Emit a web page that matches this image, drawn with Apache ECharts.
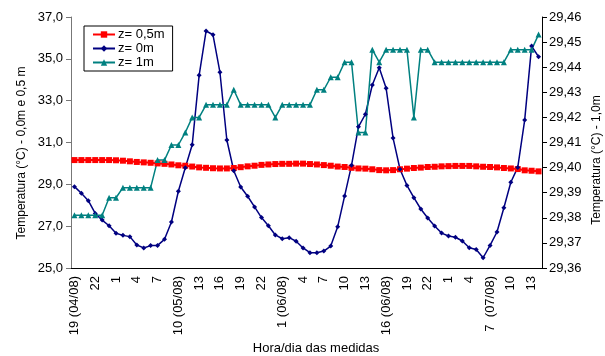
<!DOCTYPE html>
<html>
<head>
<meta charset="utf-8">
<script src="https://cdn.jsdelivr.net/npm/echarts@6/dist/echarts.min.js"></script>
<style>
html,body{margin:0;padding:0;background:#fff;}
#c{width:605px;height:356px;}
</style>
</head>
<body>
<div id="c"></div>
<script>
const categories = ['19 (04/08)','20','21','22','23',
'0','1','2','3','4','5','6','7','8','9','10 (05/08)','11','12','13','14','15','16','17','18','19','20','21','22','23',
'0','1 (06/08)','2','3','4','5','6','7','8','9','10','11','12','13','14','15','16 (06/08)','17','18','19','20','21','22','23',
'0','1','2','3','4','5','6','7  (07/08)','8','9','10','11','12','13','14'];

const z05 = [30.16,30.16,30.16,30.16,30.16,30.16,30.15,30.13,30.10,30.07,30.05,30.03,30.00,29.98,29.95,29.91,29.89,29.85,29.81,29.79,29.77,29.76,29.76,29.78,29.82,29.86,29.89,29.93,29.95,29.97,29.98,29.98,29.99,
29.99,29.97,29.95,29.92,29.89,29.85,29.83,29.79,29.76,29.75,29.72,29.68,29.67,29.68,29.72,29.75,29.78,29.80,29.83,29.84,29.86,29.87,29.88,29.88,29.88,29.86,29.84,29.83,29.81,29.78,29.76,29.73,29.67,29.65,29.62];

const z0 = [28.89,28.57,28.22,27.61,27.29,27.02,26.66,26.56,26.50,26.10,25.96,26.07,26.08,26.37,27.20,28.67,29.79,30.89,34.21,36.33,36.15,34.36,31.12,29.65,28.87,28.43,27.92,27.41,27.02,26.58,26.40,26.45,26.28,25.96,25.73,25.73,25.81,26.05,26.97,28.44,29.91,31.75,32.35,33.75,34.57,33.59,31.21,29.72,28.95,28.36,27.82,27.39,27.01,26.67,26.53,26.47,26.29,25.97,25.88,25.49,26.08,26.72,27.88,29.10,29.81,32.07,35.61,35.10];

const z1 = [29.381,29.381,29.381,29.381,29.381,29.388,29.388,29.392,29.392,29.392,29.392,29.392,29.403,29.403,29.409,29.409,29.414,29.420,29.420,29.425,29.425,29.425,29.425,29.431,29.425,29.425,29.425,29.425,29.425,29.420,29.425,29.425,29.425,29.425,29.425,29.431,29.431,29.436,29.436,29.442,29.442,29.414,29.414,29.447,29.442,29.447,29.447,29.447,29.447,29.420,29.447,29.447,29.442,29.442,29.442,29.442,29.442,29.442,29.442,29.442,29.442,29.442,29.442,29.447,29.447,29.447,29.447,29.453];

const leftTicks = {min:25, max:37, interval:2};
const rightTicks = {min:29.36, max:29.46, interval:0.01};

const FONT = 'Liberation Sans, Arial, sans-serif';
const chart = echarts.init(document.getElementById('c'), null, {renderer:'canvas'});
chart.setOption({
  animation:false,
  backgroundColor:'#fff',
  textStyle:{fontFamily:FONT},
  grid:{left:71, right:63, top:17, bottom:88, containLabel:false},
  legend:{
    orient:'vertical', left:84, top:26,
    padding:[2,8,2,8], itemGap:1, itemWidth:22, itemHeight:8,
    borderColor:'#000', borderWidth:1, borderRadius:0,
    textStyle:{fontFamily:FONT, fontSize:13, color:'#000', padding:[0,0,0,-2]},
    data:['z= 0,5m','z= 0m','z= 1m']
  },
  xAxis:{
    type:'category', data:categories, boundaryGap:true,
    axisLine:{lineStyle:{color:'#000', width:1}},
    axisTick:{interval:0, length:4, lineStyle:{color:'#000'}},
    axisLabel:{interval:2, rotate:90, margin:8, fontSize:13, color:'#000', fontFamily:FONT},
    splitLine:{show:false}
  },
  yAxis:[{
    type:'value', min:leftTicks.min, max:leftTicks.max, interval:leftTicks.interval,
    axisLine:{show:true, lineStyle:{color:'#777'}},
    axisTick:{show:true, length:5, lineStyle:{color:'#777'}},
    axisLabel:{margin:8, fontSize:13, color:'#000', fontFamily:FONT,
      formatter:v=>v.toFixed(1).replace('.',',')},
    splitLine:{show:false}
  },{
    type:'value', position:'right', min:rightTicks.min, max:rightTicks.max, interval:rightTicks.interval,
    axisLine:{show:true, lineStyle:{color:'#000'}},
    axisTick:{show:true, length:5, lineStyle:{color:'#000'}},
    axisLabel:{margin:7, fontSize:13, color:'#000', fontFamily:FONT,
      formatter:v=>v.toFixed(2).replace('.',',')},
    splitLine:{show:false}
  }],
  series:[{
    name:'z= 0,5m', type:'line', yAxisIndex:0, data:z05, showAllSymbol:true,
    symbol:'rect', symbolSize:6, color:'#FF0000',
    lineStyle:{width:2, color:'#FF0000'}, itemStyle:{color:'#FF0000'}
  },{
    name:'z= 0m', type:'line', yAxisIndex:0, data:z0, showAllSymbol:true,
    symbol:'diamond', symbolSize:5, color:'#000080',
    lineStyle:{width:1.5, color:'#000080'}, itemStyle:{color:'#000080'}
  },{
    name:'z= 1m', type:'line', yAxisIndex:1, data:z1, showAllSymbol:true,
    symbol:'triangle', symbolSize:6, color:'#008080',
    lineStyle:{width:1.5, color:'#008080'}, itemStyle:{color:'#008080'}
  }],
  graphic:[{
    type:'text', x:22, y:153, rotation:Math.PI/2,
    style:{text:'Temperatura (°C) - 0,0m e 0,5 m', font:'12px '+FONT, fill:'#000', textAlign:'center', textVerticalAlign:'middle'}
  },{
    type:'text', x:597, y:160, rotation:Math.PI/2,
    style:{text:'Temperatura (°C) - 1,0m', font:'12px '+FONT, fill:'#000', textAlign:'center', textVerticalAlign:'middle'}
  },{
    type:'text', x:316, y:348,
    style:{text:'Hora/dia das medidas', font:'13px '+FONT, fill:'#000', textAlign:'center', textVerticalAlign:'middle'}
  }]
});
</script>
</body>
</html>
